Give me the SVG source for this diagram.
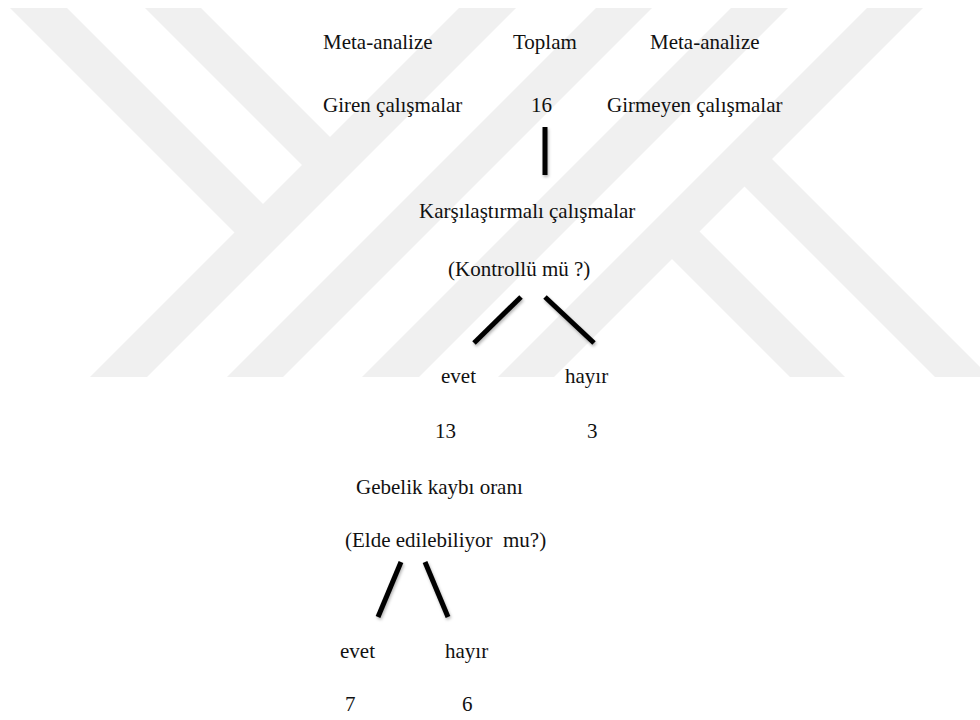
<svg xmlns="http://www.w3.org/2000/svg" width="980" height="720" viewBox="0 0 980 720">
  <style>
    text { font-family: "Liberation Serif", "Times New Roman", serif; font-size: 21px; fill: #111; white-space: pre; }
    .wm { fill: #f0f0f0; }
    .conn { stroke: #000; stroke-width: 5; stroke-linecap: butt; fill: none; filter: url(#sh); }
  </style>
  <defs>
    <filter id="sh" filterUnits="userSpaceOnUse" x="0" y="0" width="980" height="720">
      <feDropShadow dx="1" dy="2" stdDeviation="1.5" flood-color="#000" flood-opacity="0.3"/>
    </filter>
  </defs>
  <rect width="980" height="720" fill="#fff"/>
  <g id="watermark">
    <polygon class="wm" points="10,8 67,8 277,218 248.5,246.5"/>
    <polygon class="wm" points="145,8 201,8 348,155 320,183"/>
    <polygon class="wm" points="459,8 516,8 147,377 90,377"/>
    <polygon class="wm" points="596,8 652,8 283,377 227,377"/>
    <polygon class="wm" points="731,8 788,8 419,377 362,377"/>
    <polygon class="wm" points="867,8 923,8 554,377 498,377"/>
    <polygon class="wm" points="658,245 685.5,217.5 845,377 790,377"/>
    <polygon class="wm" points="730.5,172.5 758,145 990,377 935,377"/>
  </g>
  <g id="connectors">
    <line class="conn" x1="545" y1="127" x2="545" y2="175"/>
    <line class="conn" x1="521" y1="297" x2="474" y2="343"/>
    <line class="conn" x1="545" y1="297" x2="594" y2="343"/>
    <line class="conn" x1="401" y1="562" x2="378" y2="617"/>
    <line class="conn" x1="425" y1="562" x2="448" y2="617"/>
  </g>
  <g id="n-meta-in-title"><text x="323" y="49">Meta-analize</text></g>
  <g id="n-total-title"><text x="513" y="49">Toplam</text></g>
  <g id="n-meta-out-title"><text x="650" y="49">Meta-analize</text></g>
  <g id="n-meta-in"><text x="323" y="112">Giren çalışmalar</text></g>
  <g id="n-total"><text x="531" y="112">16</text></g>
  <g id="n-meta-out"><text x="607" y="112">Girmeyen çalışmalar</text></g>
  <g id="n-compare">
    <text x="419" y="218">Karşılaştırmalı çalışmalar</text>
    <text x="448" y="276">(Kontrollü mü ?)</text>
  </g>
  <g id="n-ctrl-yes">
    <text x="441" y="383">evet</text>
    <text x="435" y="438">13</text>
  </g>
  <g id="n-ctrl-no">
    <text x="565" y="383">hayır</text>
    <text x="587" y="438">3</text>
  </g>
  <g id="n-loss">
    <text x="356" y="494">Gebelik kaybı oranı</text>
    <text x="345" y="547">(Elde edilebiliyor  mu?)</text>
  </g>
  <g id="n-loss-yes">
    <text x="340" y="658">evet</text>
    <text x="345" y="711">7</text>
  </g>
  <g id="n-loss-no">
    <text x="445" y="658">hayır</text>
    <text x="462" y="711">6</text>
  </g>
</svg>
